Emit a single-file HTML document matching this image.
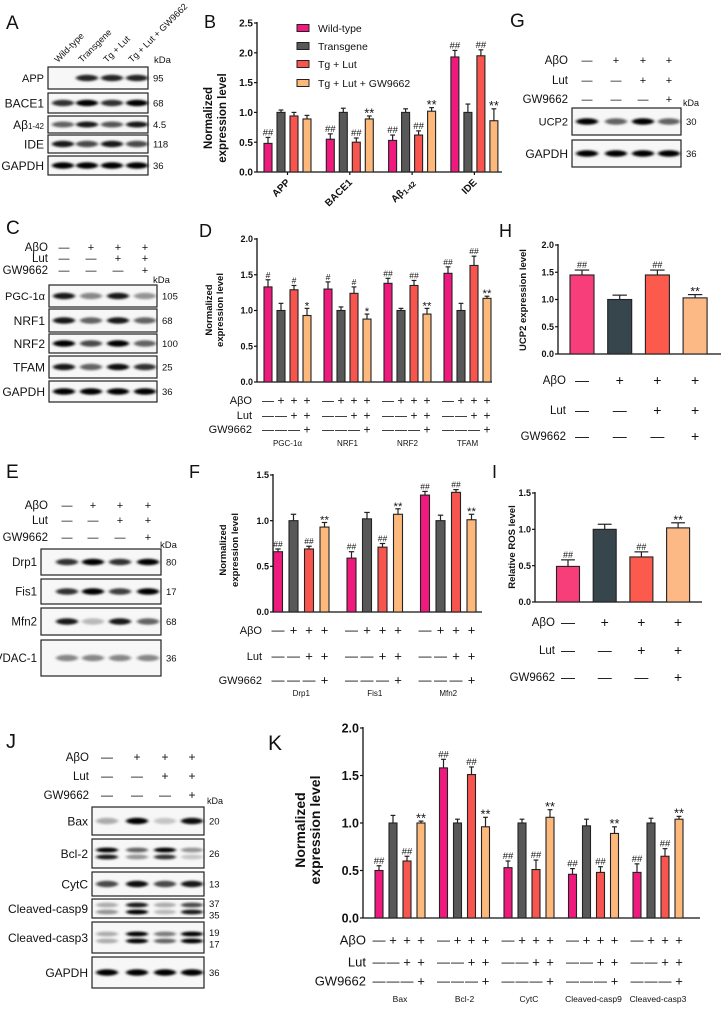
<!DOCTYPE html>
<html><head><meta charset="utf-8">
<style>
html,body{margin:0;padding:0;background:#fff;}
svg text{font-family:"Liberation Sans",Arial,sans-serif;fill:#111;}
</style></head>
<body>
<svg id="fig" width="723" height="1008" viewBox="0 0 723 1008" xmlns="http://www.w3.org/2000/svg">
<defs><filter id="blur" x="-50%" y="-100%" width="200%" height="300%"><feGaussianBlur stdDeviation="1.6 1.0"/></filter></defs>
<rect x="0" y="0" width="723" height="1008" fill="#fff"/>
</svg>
<script>
// ---------- DATA ----------
const lanes4 = ['Wild-type','Transgene','Tg + Lut','Tg + Lut + GW9662'];
const aboSigns = [0,1,1,1];
const lutSigns = [0,0,1,1];
const gwSigns  = [0,0,0,1];

// Panel B
const bCats = ['APP','BACE1','Aβ1-42','IDE'];
const bWT  = [0.48,0.55,0.53,1.93];
const bTG  = [1.00,1.00,1.00,1.00];
const bLUT = [0.94,0.50,0.62,1.95];
const bGW  = [0.89,0.89,1.02,0.86];
const bErrWT=[0.10,0.09,0.09,0.11], bErrTG=[0.04,0.07,0.06,0.14], bErrLUT=[0.06,0.07,0.07,0.10], bErrGW=[0.06,0.05,0.06,0.20];
const bAnnWT=['##','##','##','##'], bAnnLUT=['','##','##','##'], bAnnGW=['','**','**','**'];
const bTicks=['0.0','0.5','1.0','1.5','2.0','2.5'];

// Panel D
const dCats = ['PGC-1α','NRF1','NRF2','TFAM'];
const dWT  = [1.33,1.30,1.38,1.52];
const dTG  = [1.00,1.00,1.00,1.00];
const dLUT = [1.29,1.24,1.35,1.63];
const dGW  = [0.93,0.88,0.95,1.17];
const dErrWT=[0.10,0.10,0.07,0.09], dErrTG=[0.10,0.05,0.03,0.10], dErrLUT=[0.06,0.09,0.07,0.13], dErrGW=[0.10,0.07,0.08,0.03];
const dAnnWT=['#','#','##','##'], dAnnLUT=['#','#','##','##'], dAnnGW=['*','*','**','**'];
const dTicks=['0.0','0.5','1.0','1.5','2.0'];

// Panel F
const fCats = ['Drp1','Fis1','Mfn2'];
const fWT  = [0.66,0.59,1.28];
const fTG  = [1.00,1.02,1.00];
const fLUT = [0.69,0.71,1.31];
const fGW  = [0.93,1.07,1.01];
const fErrWT=[0.03,0.07,0.04], fErrTG=[0.07,0.07,0.06], fErrLUT=[0.03,0.04,0.03], fErrGW=[0.05,0.06,0.06];
const fAnnWT=['##','##','##'], fAnnLUT=['##','##','##'], fAnnGW=['**','**','**'];
const fTicks=['0.0','0.5','1.0','1.5'];

// Panel H
const hVals=[1.45,1.00,1.45,1.03];
const hErr=[0.09,0.08,0.09,0.06];
const hAnn=['##','','##','**'];
const hTicks=['0.0','0.5','1.0','1.5','2.0'];

// Panel I
const iVals=[0.49,1.00,0.62,1.02];
const iErr=[0.09,0.07,0.07,0.07];
const iAnn=['##','','##','**'];
const iTicks=['0.0','0.5','1.0','1.5'];

// Panel K
const kCats = ['Bax','Bcl-2','CytC','Cleaved-casp9','Cleaved-casp3'];
const kWT  = [0.50,1.58,0.53,0.46,0.48];
const kTG  = [1.00,1.00,1.00,0.97,1.00];
const kLUT = [0.60,1.51,0.51,0.48,0.65];
const kGW  = [1.00,0.96,1.06,0.89,1.04];
const kErrWT=[0.05,0.09,0.07,0.06,0.09], kErrTG=[0.08,0.04,0.04,0.07,0.05], kErrLUT=[0.05,0.08,0.10,0.06,0.08], kErrGW=[0.02,0.10,0.08,0.07,0.03];
const kAnnWT=['##','##','##','##','##'], kAnnLUT=['##','##','##','##','##'], kAnnGW=['**','**','**','**','**'];
const kTicks=['0.0','0.5','1.0','1.5','2.0'];

// ---------- HELPERS ----------
const NS='http://www.w3.org/2000/svg';
const svg=document.getElementById('fig');
function mk(tag,attrs,parent,name){
  const e=document.createElementNS(NS,tag);
  for(const k in attrs) e.setAttribute(k,attrs[k]);
  
  
  (parent||svg).appendChild(e);
  return e;
}
function txt(parent,x,y,s,opts,name){
  const e=mk('text',Object.assign({x:x,y:y},opts||{}),parent,name);
  e.textContent=s;
  return e;
}
function letter(ch,x,y,size){ txt(svg,x,y,ch,{'font-size':size||19},'panel-label-'+ch.toLowerCase()); }

const C1=['#f01a7e','#585858','#f8554f','#fdb97c'];
const C2=['#f83d7b','#37454d','#fb5a4d','#fdb985'];

function barChart(c){
  const g=mk('g',{},svg,c.name);
  const yS=v=>c.y0-(v/c.ymax)*(c.y0-c.yTop);
  mk('line',{x1:c.ax,y1:c.yTop-1,x2:c.ax,y2:c.y0,stroke:'#111','stroke-width':1.3},g,'y-axis');
  mk('line',{x1:c.ax,y1:c.y0,x2:c.axEnd,y2:c.y0,stroke:'#111','stroke-width':1.3},g,'x-axis');
  c.ticks.forEach((t,i)=>{
    const v=parseFloat(t), y=yS(v);
    mk('line',{x1:c.ax-3,y1:y,x2:c.ax,y2:y,stroke:'#111','stroke-width':1.2},g,'y-tick');
    txt(g,c.ax-4,y+c.tf*0.36,t,{'font-size':c.tf,'font-weight':'bold','text-anchor':'end'},'y-tick-label');
  });
  const nG=c.series[0].length;
  c.series.forEach((vals,si)=>{
    vals.forEach((v,gi)=>{
      const x=c.first+gi*c.gs+si*c.bs;
      const top=yS(v), et=yS(v+c.errs[si][gi]);
      mk('line',{x1:x,y1:top,x2:x,y2:et,stroke:'#222','stroke-width':1.2},g,'error-bar');
      mk('line',{x1:x-c.bw*0.3,y1:et,x2:x+c.bw*0.3,y2:et,stroke:'#222','stroke-width':1.2},g,'error-cap');
      mk('rect',{x:x-c.bw/2,y:top,width:c.bw,height:c.y0-top,fill:c.colors[si],stroke:'#222','stroke-width':1.1},g,'bar');
      const a=c.anns[si]?c.anns[si][gi]:'';
      if(a){
        const star=a.indexOf('*')>=0;
        txt(g,x,et-2+(star?c.af*0.35:0),a,{'font-size':star?c.af*1.35:c.af,'text-anchor':'middle'},star?'significance-star':'significance-hash');
      }
    });
  });
  if(c.groupTicks){
    for(let gi=0;gi<nG;gi++){
      const x=c.first+gi*c.gs+1.5*c.bs;
      mk('line',{x1:x,y1:c.y0,x2:x,y2:c.y0+3,stroke:'#111','stroke-width':1.2},g,'x-tick');
    }
  }
  if(c.cats){
    c.cats.forEach((s,gi)=>{
      const x=c.first+gi*c.gs+1.5*c.bs;
      if(c.rotCats){
        const t=txt(g,x+3,c.catY,'',{'font-size':c.cf,'font-weight':'bold','text-anchor':'end',transform:'rotate(-45 '+(x+3)+' '+c.catY+')'},'category-label');
        if(s==='Aβ1-42'){ t.textContent='Aβ'; const ts=mk('tspan',{'font-size':c.cf*0.75,dy:2},t,'subscript'); ts.textContent='1-42'; }
        else t.textContent=s;
      } else txt(g,x,c.catY,s,{'font-size':c.cf,'text-anchor':'middle'},'category-label');
    });
  }
  if(c.rows){
    c.rows.forEach(r=>{
      txt(g,c.rowLabelX,r.y+c.rf*0.36,r.label,{'font-size':c.rf,'text-anchor':'end'},'treatment-row-label');
      for(let gi=0;gi<nG;gi++) r.signs.forEach((s,si)=>{
        const x=c.first+gi*c.gs+si*c.bs;
        txt(g,x,r.y+c.sf*0.36,s?'+':'—',{'font-size':c.sf,'text-anchor':'middle'},s?'plus-sign':'minus-sign');
      });
    });
  }
  if(c.ylab){
    c.ylab.forEach((l,i)=>{
      txt(g,l.x,c.ylabY,l.s,{'font-size':c.yf,'font-weight':'bold','text-anchor':'middle',transform:'rotate(-90 '+l.x+' '+c.ylabY+')'},'y-axis-title');
    });
  }
  return g;
}

function header(rows,labelX,lanes,sf,name){
  const g=mk('g',{},svg,name);
  rows.forEach(r=>{
    txt(g,labelX,r.y+4,r.label,{'font-size':11.5,'text-anchor':'end'},'treatment-row-label');
    r.signs.forEach((s,i)=>txt(g,lanes[i],r.y+4,s?'+':'—',{'font-size':sf||12,'text-anchor':'middle'},s?'plus-sign':'minus-sign'));
  });
}
function blot(x1,x2,y1,y2,label,kda,lanes,ints,lf,name,lw){
  const g=mk('g',{},svg,name);
  mk('rect',{x:x1,y:y1,width:x2-x1,height:y2-y1,fill:'#f7f7f7',stroke:'#222','stroke-width':1.2},g,'blot-frame');
  const bw=lw||11;
  const dbl=Array.isArray(ints[0]);
  const cy=(y1+y2)/2;
  lanes.forEach((lx,i)=>{
    if(dbl){
      [[cy-3.5,ints[i][0]],[cy+3.5,ints[i][1]]].forEach(b=>{
        mk('ellipse',{cx:lx,cy:b[0],rx:bw,ry:2.4,fill:'#000','fill-opacity':b[1],filter:'url(#blur)'},g,'band');
      });
    } else {
      mk('ellipse',{cx:lx,cy:cy,rx:bw,ry:3.2,fill:'#000','fill-opacity':ints[i],filter:'url(#blur)'},g,'band');
    }
  });
  txt(g,x1-4,cy+lf*0.36,label,{'font-size':lf,'text-anchor':'end'},'blot-label');
  if(Array.isArray(kda)){
    txt(g,x2+5,cy-1.5,kda[0],{'font-size':9.5},'kda-value');
    txt(g,x2+5,cy+10,kda[1],{'font-size':9.5},'kda-value');
  } else txt(g,x2+5,cy+3.5,kda,{'font-size':9.5},'kda-value');
}
function trRows(ys){
  return [{label:'AβO',y:ys[0],signs:aboSigns},{label:'Lut',y:ys[1],signs:lutSigns},{label:'GW9662',y:ys[2],signs:gwSigns}];
}

// ---------- PANEL A ----------
letter('A',6,29);
const aL=[63,87,112,137];
lanes4.forEach((s,i)=>txt(svg,aL[i]-5,63,s,{'font-size':9,transform:'rotate(-45 '+(aL[i]-5)+' 63)'},'lane-label'));
txt(svg,154,63,'kDa',{'font-size':9.5},'kda-unit');
blot(48,148,67,89,'APP','95',aL,[0,.85,.85,.85],11,'blot-app');
blot(48,148,93,113,'BACE1','68',aL,[.8,1,.8,1],12,'blot-bace1');
(function(){const g=mk('g',{},svg,'blot-abeta');
 mk('rect',{x:48,y:116,width:100,height:17,fill:'#f7f7f7',stroke:'#222','stroke-width':1.2},g,'blot-frame');
 [.6,.9,.65,.9].forEach((v,i)=>mk('ellipse',{cx:aL[i],cy:124.5,rx:11,ry:3,fill:'#000','fill-opacity':v,filter:'url(#blur)'},g,'band'));
 const t=txt(g,44,129,'Aβ',{'font-size':12,'text-anchor':'end'},'blot-label');
 const ts=mk('tspan',{'font-size':8},t,'subscript'); ts.textContent='1-42';
 txt(g,153,128,'4.5',{'font-size':9.5},'kda-value');})();
blot(48,148,135,153,'IDE','118',aL,[.9,.7,.9,.7],12,'blot-ide');
blot(48,148,156,175,'GAPDH','36',aL,[1,1,1,1],12,'blot-gapdh-a');

// ---------- PANEL C ----------
letter('C',6,234);
const cL=[64,91,118,145];
header(trRows([247,258,270]),48,cL,11,'header-c');
txt(svg,153,283,'kDa',{'font-size':9.5},'kda-unit');
blot(49,157,285,307,'PGC-1α','105',cL,[.9,.45,.9,.4],11,'blot-pgc1a');
blot(49,157,309,332,'NRF1','68',cL,[.9,.6,.9,.6],12,'blot-nrf1');
blot(49,157,334,353,'NRF2','100',cL,[1,.7,1,.6],12,'blot-nrf2');
blot(49,157,356,378,'TFAM','25',cL,[.9,.6,.95,.8],12,'blot-tfam');
blot(49,157,381,402,'GAPDH','36',cL,[1,1,1,1],12,'blot-gapdh-c');

// ---------- PANEL E ----------
letter('E',6,478);
const eL=[67,93,120,148];
header(trRows([505,520,537]),48,eL,11,'header-e');
txt(svg,160,548,'kDa',{'font-size':9.5},'kda-unit');
blot(41,161,549,575,'Drp1','80',eL,[.8,1,.8,1],11.5,'blot-drp1');
blot(41,161,579,604,'Fis1','17',eL,[.8,1,.75,1],11.5,'blot-fis1');
blot(41,161,608,635,'Mfn2','68',eL,[.9,.25,.9,.6],11.5,'blot-mfn2');
blot(41,161,640,676,'VDAC-1','36',eL,[.45,.45,.45,.45],11.5,'blot-vdac1');

// ---------- PANEL G ----------
letter('G',510,27);
const gL=[587,616,643,669];
header(trRows([60,80,99]),568,gL,11,'header-g');
txt(svg,683,106,'kDa',{'font-size':9},'kda-unit');
blot(572,681,108,135,'UCP2','30',gL,[1,.6,1,.6],11,'blot-ucp2');
blot(572,681,140,167,'GAPDH','36',gL,[1,1,1,1],12,'blot-gapdh-g');

// ---------- PANEL J ----------
letter('J',6,748,20);
const jL=[107,137,165,192];
header(trRows([757,776,795]),89,jL,12,'header-j');
txt(svg,207,804,'kDa',{'font-size':9},'kda-unit');
blot(92,204,807,835,'Bax','20',jL,[.3,1,.2,.95],12,'blot-bax');
blot(92,204,839,868,'Bcl-2','26',jL,[[1,.9],[.6,.4],[1,.8],[.4,.2]],12,'blot-bcl2');
blot(92,204,872,896,'CytC','13',jL,[.7,.95,.7,.9],12,'blot-cytc');
blot(92,204,899,918,'Cleaved-casp9',['37','35'],jL,[[.3,.4],[.9,1],[.3,.25],[.7,.9]],12,'blot-casp9');
blot(92,204,922,953,'Cleaved-casp3',['19','17'],jL,[[.3,.3],[1,1],[.5,.6],[1,1]],12,'blot-casp3');
blot(92,204,957,988,'GAPDH','36',jL,[1,1,1,1],12,'blot-gapdh-j');

// ---------- PANEL B ----------
letter('B',204,28,18);
barChart({name:'chart-b',ax:257,yTop:23,y0:172,ymax:2.5,ticks:bTicks,tf:10,
  first:268,bs:13,gs:62.3,bw:8,axEnd:502,colors:C1,
  series:[bWT,bTG,bLUT,bGW],errs:[bErrWT,bErrTG,bErrLUT,bErrGW],anns:[bAnnWT,null,bAnnLUT,bAnnGW],af:9.5,
  groupTicks:true,cats:bCats,rotCats:true,catY:183,cf:10,
  ylab:[{x:212,s:'Normalized'},{x:226,s:'expression level'}],ylabY:118,yf:11.5});
(function(){const g=mk('g',{},svg,'legend-b');
 const names=['Wild-type','Transgene','Tg + Lut','Tg + Lut + GW9662'];
 [28,46,64,83].forEach((y,i)=>{
  mk('rect',{x:297,y:y-3.5,width:12,height:7,fill:C1[i],stroke:'#222','stroke-width':1},g,'legend-swatch');
  txt(g,318,y+4,names[i],{'font-size':10.5},'legend-entry');
 });})();

// ---------- PANEL D ----------
letter('D',199,237,18);
barChart({name:'chart-d',ax:257,yTop:239,y0:382,ymax:2,ticks:dTicks,tf:9,
  first:268,bs:13,gs:60,bw:8,axEnd:492,colors:C1,
  series:[dWT,dTG,dLUT,dGW],errs:[dErrWT,dErrTG,dErrLUT,dErrGW],anns:[dAnnWT,null,dAnnLUT,dAnnGW],af:8.5,
  cats:dCats,catY:446,cf:8,
  rows:trRows([400,415,429]),rowLabelX:252,rf:11,sf:12,
  ylab:[{x:212,s:'Normalized'},{x:223,s:'expression level'}],ylabY:310,yf:9.5});

// ---------- PANEL F ----------
letter('F',189,478,18);
barChart({name:'chart-f',ax:273,yTop:475,y0:612,ymax:1.5,ticks:fTicks,tf:9,
  first:278,bs:15.5,gs:73.5,bw:9,axEnd:482,colors:C1,
  series:[fWT,fTG,fLUT,fGW],errs:[fErrWT,fErrTG,fErrLUT,fErrGW],anns:[fAnnWT,null,fAnnLUT,fAnnGW],af:8.5,
  cats:fCats,catY:696,cf:8,
  rows:trRows([630,656,680]),rowLabelX:262,rf:11,sf:13,
  ylab:[{x:226,s:'Normalized'},{x:238,s:'expression level'}],ylabY:550,yf:9.5});

// ---------- PANEL H ----------
letter('H',499,237,18);
barChart({name:'chart-h',ax:558,yTop:245,y0:354,ymax:2,ticks:hTicks,tf:9,
  first:582,bs:37.7,gs:0,bw:24,axEnd:721,colors:C2,
  series:[[hVals[0]],[hVals[1]],[hVals[2]],[hVals[3]]],errs:[[hErr[0]],[hErr[1]],[hErr[2]],[hErr[3]]],
  anns:[[hAnn[0]],[hAnn[1]],[hAnn[2]],[hAnn[3]]],af:9,
  rows:trRows([380,410,436]),rowLabelX:566,rf:11.5,sf:14,
  ylab:[{x:526,s:'UCP2 expression level'}],ylabY:300,yf:9.5});

// ---------- PANEL I ----------
letter('I',492,478,18);
barChart({name:'chart-i',ax:535,yTop:493,y0:602,ymax:1.5,ticks:iTicks,tf:9,
  first:568,bs:36.7,gs:0,bw:23,axEnd:702,colors:C2,
  series:[[iVals[0]],[iVals[1]],[iVals[2]],[iVals[3]]],errs:[[iErr[0]],[iErr[1]],[iErr[2]],[iErr[3]]],
  anns:[[iAnn[0]],[iAnn[1]],[iAnn[2]],[iAnn[3]]],af:9,
  rows:trRows([622,650,677]),rowLabelX:555,rf:11.5,sf:14,
  ylab:[{x:515,s:'Relative ROS level'}],ylabY:547,yf:9.5});

// ---------- PANEL K ----------
letter('K',268,750,21);
barChart({name:'chart-k',ax:363,yTop:728,y0:918,ymax:2,ticks:kTicks,tf:12.5,
  first:379,bs:14,gs:64.5,bw:8,axEnd:700,colors:C1,
  series:[kWT,kTG,kLUT,kGW],errs:[kErrWT,kErrTG,kErrLUT,kErrGW],anns:[kAnnWT,null,kAnnLUT,kAnnGW],af:9.5,
  cats:kCats,catY:1002,cf:8.5,
  rows:trRows([940,962,981]),rowLabelX:366,rf:13,sf:13,
  ylab:[{x:305,s:'Normalized'},{x:320,s:'expression level'}],ylabY:830,yf:14});
</script>
</body></html>
